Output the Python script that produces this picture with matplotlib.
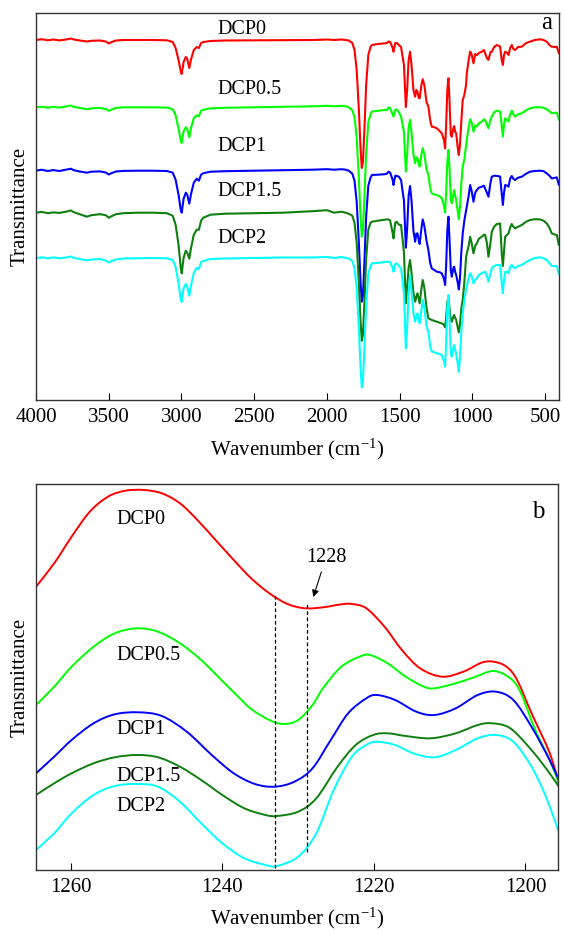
import matplotlib
matplotlib.use("Agg")
import matplotlib.pyplot as plt
from matplotlib.path import Path
from matplotlib.patches import PathPatch
import numpy as np

plt.rcParams['font.family'] = ['Liberation Serif', 'DejaVu Serif']
plt.rcParams['mathtext.fontset'] = 'custom'
plt.rcParams['mathtext.rm'] = 'Liberation Serif'
plt.rcParams['mathtext.it'] = 'Liberation Serif:italic'

names = ["DCP0", "DCP0.5", "DCP1", "DCP1.5", "DCP2"]
colors = ["#ff0000", "#00ff00", "#0000ff", "#0f7f0f", "#00ffff"]

# ---------------- panel a : full spectra (depth below each trace's baseline, a.u.)
wn_a = [4000, 3960, 3920, 3880, 3840, 3800, 3760, 3740, 3700, 3650,
        3620, 3560, 3520, 3500, 3480, 3450, 3400, 3300, 3200, 3100,
        3060, 3040, 3020, 3005, 2998, 2985, 2970, 2960, 2946, 2935,
        2915, 2895, 2880, 2865, 2850, 2800, 2700, 2500, 2300, 2100,
        2000, 1950, 1900, 1870, 1850, 1825, 1810, 1795, 1780, 1768,
        1760, 1752, 1742, 1730, 1715, 1700, 1690, 1650, 1600, 1588,
        1575, 1565, 1548, 1542, 1530, 1520, 1505, 1490, 1470, 1457,
        1448, 1438, 1428, 1418, 1405, 1393, 1385, 1377, 1368, 1362,
        1350, 1341, 1330, 1315, 1302, 1290, 1279, 1265, 1244, 1225,
        1210, 1195, 1187, 1180, 1172, 1164, 1157, 1148, 1141, 1130,
        1125, 1118, 1111, 1100, 1093, 1085, 1075, 1066, 1055, 1043,
        1038, 1025, 1015, 1005, 992, 980, 969, 955, 935, 920,
        912, 900, 889, 875, 866, 850, 832, 815, 809, 798,
        790, 782, 774, 760, 751, 740, 729, 718, 706, 685,
        660, 630, 603, 570, 534, 510, 488, 470, 454, 430,
        419, 405]

base_a = [360, 292.7, 229.3, 187.3, 142]

depth_dcp0 = [0, -0.8, 0.3, -0.5, 0.4, -0.3, -1.5, -0.5, 0.5, 1.5,
              0.8, 0.5, 1.5, 3.5, 2, 0.5, 0, 0, 0, 0.3,
              2, 8, 20, 31, 34, 22, 17, 19, 28, 20,
              10, 7, 8, 3, 2, 1, 0.5, 0.3, 0, 0,
              -0.5, 0, -0.5, 0, 0.5, 3, 10, 30, 70, 110,
              128, 122, 90, 45, 15, 7, 5, 4, 3.3, 3,
              1.5, 2, 8, 11.7, 3, 3, 5, 7, 25, 67,
              50, 20, 11.7, 25, 50, 56.7, 50, 51.7, 58, 58.3,
              45, 39.3, 45, 62, 66.7, 80, 86.7, 87, 88.3, 91,
              93.3, 100, 108.3, 85, 50, 38.3, 60, 95, 96.7, 88,
              86, 92, 93.3, 108, 115, 105, 80, 60, 55, 45,
              33.3, 20, 11.7, 14, 23.3, 14, 15, 13, 11.7, 10,
              13.3, 18, 20, 12, 11.7, 7, 5, 6, 6.7, 20,
              25, 15, 11.7, 13, 15, 8, 5, 9, 10, 7,
              6.7, 3, 1.7, 0, -0.7, 0, 1.7, 5, 6.7, 7,
              6.7, 13]

depth_dcp05 = [0, -0.5, 0.4, -0.4, 0.2, -0.6, -1.8, -0.3, 0.6, 2.0,
               1.0, 0.6, 1.8, 3.5, 2.2, 0.6, 0, 0, 0, 0.3,
               2, 8, 21, 33, 35.7, 24, 20, 22, 30, 21,
               11, 8, 9, 3.5, 2.5, 1, 0.5, 0, -0.5, -1,
               -1.5, -1, -1.5, -1, 0, 3, 10, 30, 71, 111,
               129.3, 123, 91, 46, 15, 7, 4.3, 3.5, 2.7, 2.7,
               0, 1, 7, 9.3, 2.5, 2, 5, 9.3, 25, 64.3,
               48, 20, 12.7, 25, 47, 56, 50, 51, 57, 59.3,
               47, 41, 47, 62, 67.7, 80, 86, 87, 87.7, 89,
               91, 98, 105.3, 85, 55, 42.7, 60, 92, 96, 87,
               82.7, 88, 92.7, 105, 112, 100, 75, 59.3, 52, 38,
               32.7, 20, 12, 15, 24.3, 18, 19.3, 16, 14.3, 12,
               12.7, 17, 21, 12, 9.3, 5, 3.3, 4, 4.3, 18,
               29.3, 17, 11, 13, 14.3, 7, 3.3, 7, 9.3, 7,
               6, 3, 1, 0, 0, 0.5, 2, 4, 6, 5.5,
               5.3, 12]

depth_dcp1 = [0, -1, 0.3, -0.6, 0.3, -0.8, -2, -0.5, 0.8, 2,
              1, 0.7, 1.8, 3.8, 2.4, 0.8, 0.2, 0, 0, 0.3,
              2, 9, 24, 39, 42, 28, 22, 24, 33, 24,
              12, 8, 10, 4, 2.5, 1, 0.5, 0, -0.5, -1,
              -1.5, -1, -1.5, -1, 0, 3, 10, 31, 72, 113,
              131, 125, 92, 46, 15, 7, 4.3, 4, 3.5, 3,
              1, 2, 9, 14.3, 5, 5.3, 6, 9.3, 30, 77,
              58, 25, 15.3, 30, 60, 71, 63, 62.7, 70, 73.3,
              58, 48.7, 55, 70, 79.3, 92, 97.7, 99, 101, 101.5,
              102.7, 108, 114.3, 95, 60, 46, 68, 100, 106, 97,
              96, 101, 104.3, 112, 118.7, 108, 80, 62.7, 50, 40,
              36, 25, 14.3, 20, 31, 22, 19.3, 17, 16, 15,
              17.7, 22, 26, 12, 6, 5, 5.3, 5.5, 6, 22,
              34.3, 22, 14.3, 15, 16, 8, 5.3, 8, 9.3, 7,
              6, 3, 1, 0.3, 0, 0.5, 2.7, 5, 7.7, 7,
              6.7, 14]

depth_dcp15 = [0, -0.8, 0.5, -0.3, 0.2, -0.8, -2.2, -0.5, 1.5, 4,
               2.5, 1.5, 2.5, 5, 3.5, 1.5, 0.5, 0, 0, 0.5,
               3, 12, 32, 55, 60.7, 45, 38, 40, 46, 36,
               22, 17, 17, 8, 5, 2, 1, 0.5, 0, -1.5,
               -2.5, 0, -1, 0, 1, 3, 10, 30, 70, 110,
               128, 122, 90, 46, 17, 10, 9, 8, 7, 6.7,
               6.7, 8, 20, 25.7, 10, 9, 12, 12.3, 40, 90.7,
               75, 55, 47.3, 60, 80, 89, 84, 80.7, 87, 90.7,
               76, 67.3, 75, 95, 105.7, 106.5, 107.3, 108, 109, 110,
               110.7, 112, 114.7, 105, 90, 84, 95, 107, 109, 104,
               102.3, 105, 107.3, 115, 119.7, 112, 95, 87.3, 70, 45,
               40.7, 33, 24, 30, 40.7, 33, 30.7, 26, 24, 22,
               22.3, 30, 44, 30, 19, 14, 11.3, 11, 10.7, 40,
               53.3, 38, 24, 22, 20.7, 15, 11.3, 14, 15.7, 14,
               12.3, 9, 7.3, 6.5, 6.7, 8, 10.7, 15, 20.7, 22,
               22.3, 32]

depth_dcp2 = [0, -0.6, 0.2, -0.5, 0.3, -0.4, -1.5, 0, 1, 2.5,
              1.5, 1, 2.5, 4.5, 3, 1.5, 0.5, 0.3, 0, 0.3,
              2, 9, 25, 41, 44, 30, 26, 29, 37.7, 28,
              15, 10, 11, 4, 3, 1, 0.5, 0, -0.5, -0.5,
              -1, 0, -1, 0, 0.5, 3, 10, 30, 71, 111,
              129.3, 123, 91, 46, 16, 8, 5.3, 5, 4, 3.7,
              3.7, 4, 10, 13.7, 6, 5.3, 8, 10.3, 35, 90.3,
              70, 35, 17, 33, 55, 63.7, 58, 55.3, 62, 65.3,
              52, 42, 50, 68, 73.7, 88, 93.7, 94, 95.3, 96,
              97, 103, 108.7, 85, 50, 37, 60, 95, 98.7, 90,
              87, 92, 95.3, 106, 113.7, 100, 72, 55.3, 42, 32,
              28.7, 20, 15.3, 18, 25.3, 22, 20.3, 17, 15.3, 14,
              13.7, 18, 23.7, 15, 10.3, 8, 7, 7, 7, 25,
              35.3, 22, 13.7, 14, 15.3, 9, 7, 9, 10.3, 8,
              7, 4, 2, 0, -0.7, 0.5, 2, 5, 8, 8,
              8, 16]

depths_a = [depth_dcp0, depth_dcp05, depth_dcp1, depth_dcp15, depth_dcp2]

# ---------------- panel b : zoomed region
wn_b0 = [1264.6, 1262.2, 1259.9, 1257.5, 1255.1, 1252.8, 1250.4, 1248.0, 1245.6, 1243.3,
         1240.9, 1238.5, 1236.2, 1233.8, 1231.4, 1229.1, 1226.7, 1224.3, 1222.9, 1221.0,
         1218.6, 1216.3, 1213.9, 1211.0, 1208.2, 1205.8, 1204.2, 1202.5, 1201.1, 1199.2,
         1196.8, 1195.6]
t_b0 = [283.3, 306.7, 333.3, 358.3, 373.3, 379.3, 380, 376.7, 366.7, 350,
        330, 310, 291.7, 276.7, 266, 261.7, 262.7, 265.7, 266, 261.7,
        243.3, 220, 201.7, 193.3, 198.3, 207.3, 208.3, 203.3, 190, 157,
        117, 87]

wn_b05 = [1264.6, 1262.2, 1259.9, 1257.0, 1254.2, 1251.3, 1248.5, 1245.6, 1242.8, 1240.0,
          1238.0, 1236.2, 1233.8, 1231.9, 1230.0, 1228.1, 1226.7, 1224.3, 1221.9, 1220.5,
          1218.2, 1215.8, 1213.4, 1212.0, 1209.2, 1206.8, 1204.2, 1202.0, 1200.6, 1198.7,
          1196.8, 1195.6]
t_b05 = [165, 183.3, 203.3, 223.3, 236.7, 241.7, 238.3, 226.7, 210, 189,
         174, 161, 150, 146, 150, 165, 182, 203.3, 213.3, 215,
         206.7, 193.3, 183.3, 181.7, 186.7, 192.7, 199, 191.7, 177, 140,
         110, 87]

wn_b1 = [1264.6, 1262.2, 1259.9, 1257.0, 1254.2, 1251.1, 1248.0, 1244.7, 1241.4, 1238.5,
         1235.7, 1233.1, 1230.5, 1228.1, 1225.7, 1223.4, 1221.0, 1219.6, 1217.2, 1214.4,
         1212.0, 1209.2, 1206.3, 1203.9, 1201.6, 1199.2, 1196.8, 1195.6]
t_b1 = [96.7, 113.3, 130, 146.7, 155.7, 157.7, 154, 138.3, 115, 96.7,
        86, 83.3, 88.3, 101.7, 130, 156.7, 171.7, 175, 170, 158.3,
        155, 161.7, 175, 178.3, 170, 143.3, 110, 90]

wn_b15 = [1264.6, 1262.2, 1259.9, 1257.0, 1254.2, 1251.3, 1248.5, 1245.6, 1242.8, 1240.0,
          1237.1, 1234.3, 1232.8, 1230.0, 1227.6, 1224.8, 1222.4, 1220.1, 1218.2, 1215.8,
          1212.5, 1209.2, 1206.3, 1204.4, 1202.0, 1199.2, 1196.8, 1195.6]
t_b15 = [75, 86.7, 96.7, 106.7, 112.7, 115, 112.7, 103.3, 90, 75,
         61.7, 55, 54, 58.3, 71.7, 103.3, 125, 135, 136.7, 134,
         131.7, 136.7, 145, 146.7, 141.7, 120, 96.7, 83.3]

wn_b2 = [1264.6, 1262.2, 1259.9, 1257.0, 1254.2, 1251.3, 1248.5, 1245.6, 1242.8, 1240.0,
         1237.1, 1234.3, 1232.8, 1230.0, 1227.6, 1225.3, 1222.9, 1221.0, 1219.6, 1217.2,
         1214.8, 1212.0, 1209.2, 1206.3, 1203.9, 1201.6, 1199.2, 1197.3, 1195.6]
t_b2 = [20, 36.7, 56.7, 75, 84, 86, 83.3, 68.3, 46.7, 26.7,
        11.7, 5, 4, 13.3, 36.7, 80, 113.3, 125, 128.3, 125,
        116.7, 112.7, 120, 131.7, 135, 128.3, 103.3, 73.3, 38.3]

wn_b = [wn_b0, wn_b05, wn_b1, wn_b15, wn_b2]
t_b = [t_b0, t_b05, t_b1, t_b15, t_b2]

xticks_a = [4000, 3500, 3000, 2500, 2000, 1500, 1000, 500]
xticks_b = [1260, 1240, 1220, 1200]
guide_wn = [1233.1, 1228.8]


def smooth_path(x, y):
    """Bezier path passing through every data point (Catmull-Rom tangents)."""
    p = np.column_stack([x, y]).astype(float)
    n = len(p)
    verts = [p[0]]
    codes = [Path.MOVETO]
    for i in range(n - 1):
        p0 = p[i - 1] if i > 0 else p[i]
        p3 = p[i + 2] if i + 2 < n else p[i + 1]
        c1 = p[i] + (p[i + 1] - p0) / 6.0
        c2 = p[i + 1] - (p3 - p[i]) / 6.0
        verts += [c1, c2, p[i + 1]]
        codes += [Path.CURVE4] * 3
    return Path(verts, codes)


# ---------------- figure
W, H = 564, 933
fig = plt.figure(figsize=(W / 100, H / 100), dpi=100)
axa = fig.add_axes([36 / W, (H - 400) / H, 523 / W, 387 / H])
axb = fig.add_axes([36 / W, (H - 870) / H, 522 / W, 386 / H])

for d, b, c in zip(depths_a, base_a, colors):
    axa.plot(wn_a, [b - v for v in d], color=c, lw=1.5, solid_joinstyle='round')

axa.set_xlim(4000, 404)
axa.set_ylim(0, 387)
axa.set_xticks(xticks_a)

lab_a_y = [370, 310, 253.3, 208.3, 161.7]
for n, y in zip(names, lab_a_y):
    axa.text(2750, y, n, fontsize=14.5, ha='left', va='center')
axa.text(0.977, 0.973, 'a', transform=axa.transAxes, fontsize=18, ha='center', va='center')

for x, y, c in zip(wn_b, t_b, colors):
    axb.add_patch(PathPatch(smooth_path(x, y), facecolor='none', edgecolor=c, lw=1.4))

axb.set_xlim(1264.6, 1195.7)
axb.set_ylim(0, 386)
axb.set_xticks(xticks_b)

lab_b_y = [350, 215, 140, 93.3, 63.3]
for n, y in zip(names, lab_b_y):
    axb.text(1254.0, y, n, fontsize=14.5, ha='left', va='center')
axb.text(0.962, 0.928, 'b', transform=axb.transAxes, fontsize=18, ha='center', va='center')

axb.vlines(guide_wn[0], 2, 275, colors='k', linestyles=(0, (3, 2)), lw=0.9)
axb.vlines(guide_wn[1], 18, 267, colors='k', linestyles=(0, (3, 2)), lw=0.9)
axb.annotate('1228', xy=(1228.0, 273), xytext=(1226.3, 313), fontsize=14.5,
             ha='center', va='center',
             arrowprops=dict(arrowstyle='-|>', color='k', lw=0.8, mutation_scale=10,
                             shrinkA=2, shrinkB=0))

for ax, lp in ((axa, 7), (axb, 6)):
    ax.set_yticks([])
    ax.tick_params(axis='x', direction='in', length=5, width=0.8, labelsize=15, pad=6)
    for s in ax.spines.values():
        s.set_color('#333333')
        s.set_linewidth(1.0)
    ax.set_xlabel('Wavenumber (cm$^{-1}$)', fontsize=15, labelpad=lp)
    ax.set_ylabel('Transmittance', fontsize=15)
    ax.yaxis.set_label_coords(-0.012, 0.5)

fig.savefig('out.png', dpi=100)
